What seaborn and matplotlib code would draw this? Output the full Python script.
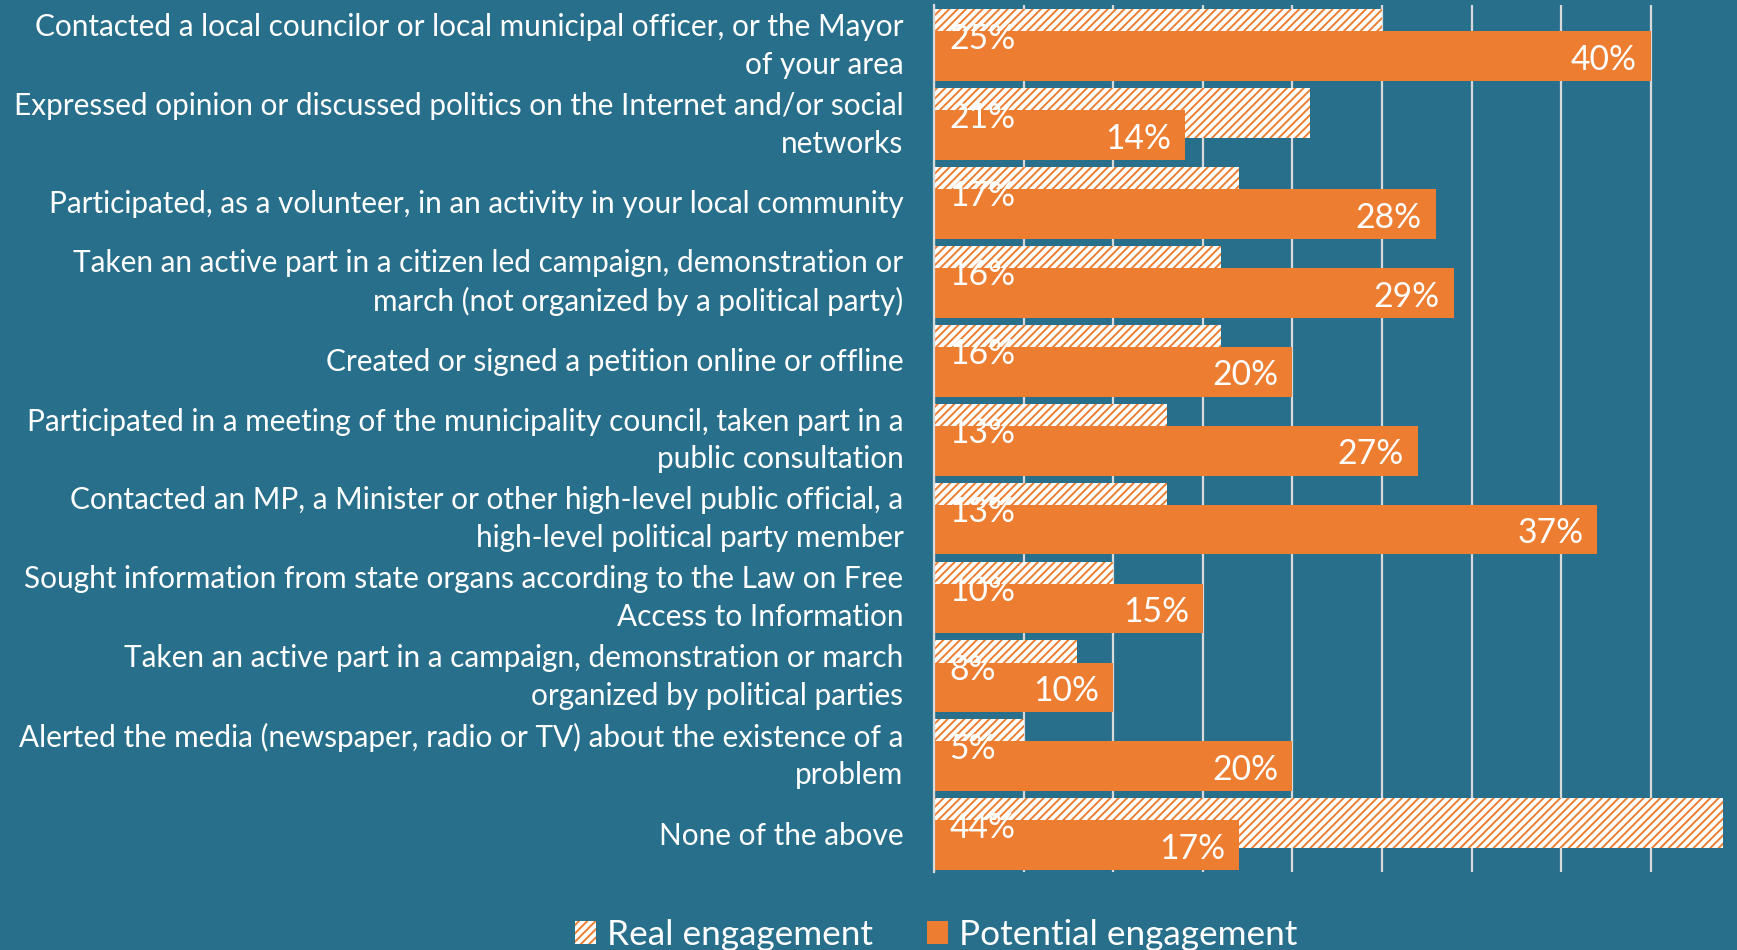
import matplotlib
matplotlib.use('Agg')
import matplotlib.pyplot as plt
import matplotlib.transforms as mtransforms
import seaborn as sns
import pandas as pd
from matplotlib.patches import Patch
from matplotlib.textpath import TextPath
from matplotlib.font_manager import FontProperties

categories = [
    "Contacted a local councilor or local municipal officer, or the Mayor\nof your area",
    "Expressed opinion or discussed politics on the Internet and/or social\nnetworks",
    "Participated, as a volunteer, in an activity in your local community",
    "Taken an active part in a citizen led campaign, demonstration or\nmarch (not organized by a political party)",
    "Created or signed a petition online or offline",
    "Participated in a meeting of the municipality council, taken part in a\npublic consultation",
    "Contacted an MP, a Minister or other high-level public official, a\nhigh-level political party member",
    "Sought information from state organs according to the Law on Free\nAccess to Information",
    "Taken an active part in a campaign, demonstration or march\norganized by political parties",
    "Alerted the media (newspaper, radio or TV) about the existence of a\nproblem",
    "None of the above",
]
real = [25, 21, 17, 16, 16, 13, 13, 10, 8, 5, 44]
potential = [40, 14, 28, 29, 20, 27, 37, 15, 10, 20, 17]
series = ["Real engagement", "Potential engagement"]
grid_ticks = [0, 5, 10, 15, 20, 25, 30, 35, 40]

BG = "#286F8C"
ORANGE = "#ED7D31"
GRID = "#D9D9D9"
FAMILY = ["Lato", "Open Sans", "DejaVu Sans"]

sns.set_theme(style="white")
plt.rcParams["font.family"] = FAMILY
plt.rcParams["hatch.linewidth"] = 1.4


def fit_size(text, target_px, ref_pt=20):
    """font size (pt) so that text is about target_px wide at 100 dpi"""
    fp = FontProperties(family=FAMILY, size=ref_pt)
    w = TextPath((0, 0), text, prop=fp).get_extents().width  # in points
    return ref_pt * target_px / (w * 100 / 72)


CAT_PT = fit_size("Contacted a local councilor or local municipal officer, or the Mayor", 865)
LBL_PT = fit_size("40%", 64)
LEG_PT = fit_size("Real engagement", 262)

n = len(categories)
df = pd.DataFrame({
    "category": categories * 2,
    "value": real + potential,
    "series": [series[0]] * n + [series[1]] * n,
})

W, H = 1737, 950
fig = plt.figure(figsize=(W / 100, H / 100), dpi=100, facecolor=BG)
ax = fig.add_axes([934 / W, 78 / H, 1 - 934 / W, 867 / H])
ax.set_facecolor(BG)

sns.barplot(data=df, y="category", x="value", hue="series", hue_order=series,
            order=categories, orient="h", dodge=True, width=0.56,
            palette=["white", ORANGE], saturation=1, legend=False, ax=ax,
            zorder=3)

for p in ax.containers[0]:
    p.set_hatch("////")
    p.set_edgecolor(ORANGE)
    p.set_linewidth(0)
for p in ax.containers[1]:
    p.set_linewidth(0)

# overlapping bars (Excel style negative gap)
for cont in ax.containers:
    for p in cont:
        c = p.get_y() + p.get_height() / 2
        p.set_height(0.63)
        p.set_y(c - 0.315)

for p in ax.containers[0]:
    w = p.get_width()
    c = p.get_y() + p.get_height() / 2
    ax.annotate(f"{w:.0f}%", xy=(0, c), xytext=(11, -3.2), textcoords="offset points",
                ha="left", va="center", color="white", fontsize=LBL_PT, zorder=5)
for p in ax.containers[1]:
    w = p.get_width()
    c = p.get_y() + p.get_height() / 2
    ax.annotate(f"{w:.0f}%", xy=(w, c), xytext=(-10, -2.6), textcoords="offset points",
                ha="right", va="center", color="white", fontsize=LBL_PT, zorder=5)

ax.set_xlim(0, 44.8)
ax.set_ylim(n - 0.52, -0.51)
ax.set_xticks(grid_ticks)
ax.set_xticklabels([])
ax.xaxis.grid(True, color=GRID, linewidth=1.6)
ax.set_axisbelow(True)
for s in ["top", "right", "bottom"]:
    ax.spines[s].set_visible(False)
ax.spines["left"].set_color(GRID)
ax.spines["left"].set_linewidth(1.6)
ax.spines["left"].set_zorder(4)
ax.tick_params(axis="x", length=0)
ax.tick_params(axis="y", length=0, pad=22, labelsize=CAT_PT, labelcolor="white")
for t in ax.get_yticklabels():
    t.set_linespacing(1.42)
    up = 4.8 if "\n" in t.get_text() else 0.8
    shift = mtransforms.ScaledTranslation(0, up / 72, fig.dpi_scale_trans)
    t.set_transform(t.get_transform() + shift)
ax.set_xlabel("")
ax.set_ylabel("")

handles = [Patch(facecolor="white", edgecolor=ORANGE, hatch="////", linewidth=0),
           Patch(facecolor=ORANGE, linewidth=0)]
fig.legend(handles, series, loc="center", bbox_to_anchor=(936 / W, 1 - 935 / H),
           ncol=2, frameon=False, fontsize=LEG_PT, labelcolor="white",
           handlelength=0.6, handleheight=0.6, columnspacing=1.55, handletextpad=0.3)

fig.savefig("out.png", dpi=100, facecolor=BG)
